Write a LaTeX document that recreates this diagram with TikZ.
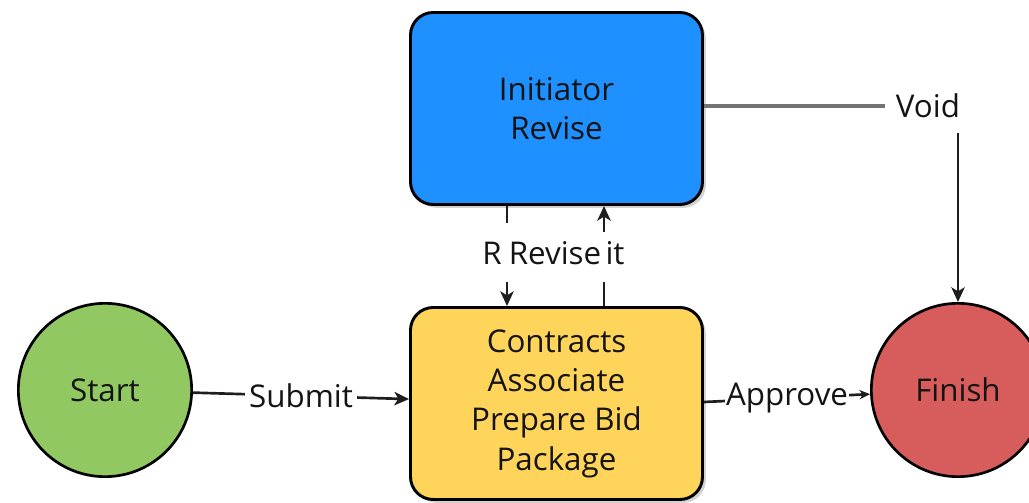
\documentclass[tikz,border=0pt]{standalone}
\usepackage{fontspec}
\setmainfont{Open Sans}
\usetikzlibrary{shadows,arrows.meta}
\definecolor{blueC}{RGB}{30,144,255}
\definecolor{yellowC}{RGB}{255,212,90}
\definecolor{greenC}{RGB}{146,200,98}
\definecolor{redC}{RGB}{215,92,92}
\definecolor{lineC}{RGB}{30,30,30}
\definecolor{textC}{RGB}{20,20,20}
\begin{document}
\begin{tikzpicture}[x=0.75pt,y=-0.75pt,
  every node/.style={font=\fontsize{23.5}{29.5}\selectfont, text=textC},
  box/.style={draw=black, line width=2.2pt, rounded corners=17pt,
    minimum width=219pt, minimum height=144pt, align=center,
    drop shadow={opacity=0.35, shadow xshift=2.5pt, shadow yshift=-2.5pt}},
  circ/.style={circle, draw=black, line width=2pt, minimum size=130pt, inner sep=0pt},
  conn/.style={draw=lineC, line width=2pt},
  arr/.style={conn, -{Stealth[length=11pt,width=10pt,inset=3pt]}},
  lbl/.style={fill=white, inner sep=1pt}]
\useasboundingbox (0,0) rectangle (1029,503);
\node[box, fill=blueC] (init) at (556.5,108.5) {Initiator\\Revise};
\node[box, fill=yellowC] (prep) at (556.5,403.5) {Contracts\\Associate\\Prepare Bid\\Package};
\node[circ, fill=greenC] (start) at (105,390) {Start};
\node[circ, fill=redC] (finish) at (958,390) {Finish};
% Submit
\draw[arr] (start) -- node[lbl, inner xsep=3pt] (lsub) {Submit} (prep);
% Approve
\draw[conn, -{Stealth[length=8pt,width=7pt]}] (prep.east |- 0,402) -- node[lbl, inner xsep=1pt] (lapp) {Approve} (finish);
% Void
\coordinate (v1) at (885,106);
\coordinate (v2) at (958,133);
\draw[conn, draw=black!55, line width=2.6pt] (init.east |- v1) -- (v1);
\node (lvoid) at (928,106) {Void};
\draw[arr] (v2) -- (finish.north);
% Revise connectors
\coordinate (a1) at (507,223);
\coordinate (a2) at (507,282);
\coordinate (b1) at (604,282);
\coordinate (b2) at (604,232);
\draw[conn] (init.south -| a1) -- (a1);
\draw[arr] (a2) -- (prep.north -| a2);
\draw[conn] (prep.north -| b1) -- (b1);
\draw[arr] (b2) -- (init.south -| b2);
\node (lr) at (492,253) {R};
\node (lrev) at (555,253) {Revise};
\node (lit) at (615,253) {it};
\end{tikzpicture}
\end{document}
